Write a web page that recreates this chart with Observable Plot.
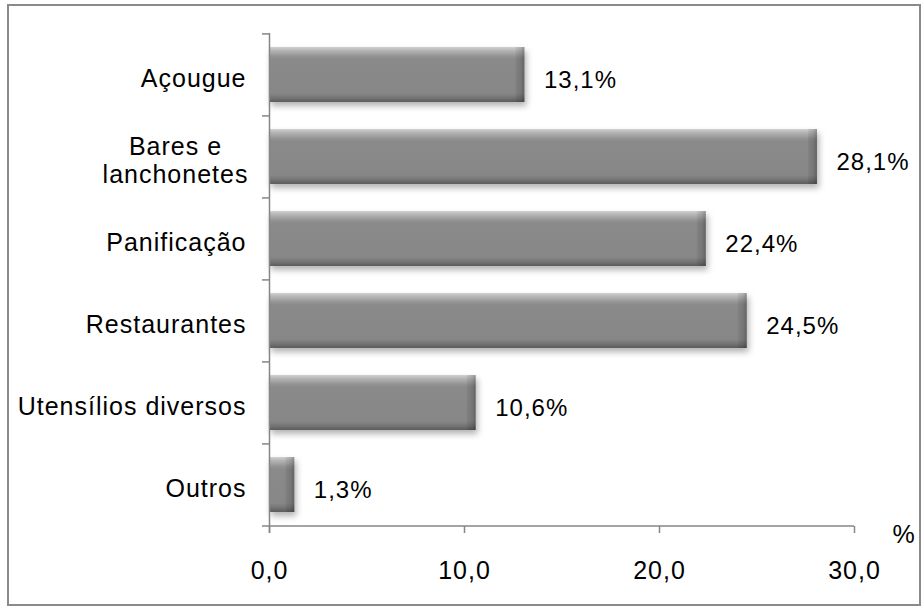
<!DOCTYPE html>
<html><head><meta charset="utf-8">
<script src="https://cdn.jsdelivr.net/npm/d3@7"></script>
<script src="https://cdn.jsdelivr.net/npm/@observablehq/plot@0.6"></script>
<style>
html,body{margin:0;padding:0;background:#fff;}
#wrap{position:relative;width:923px;height:607px;overflow:hidden;}
#wrap svg{position:absolute;left:0;top:0;}
#wrap svg text{letter-spacing:1px;}
#border{position:absolute;left:7px;top:4px;width:914px;height:602px;border:2px solid #8a8a8a;box-sizing:border-box;pointer-events:none;}
</style></head><body><div id="wrap"></div>
<script>
const categories = ["Açougue", "Bares e\nlanchonetes", "Panificação", "Restaurantes", "Utensílios diversos", "Outros"];
const values = [13.1, 28.1, 22.4, 24.5, 10.6, 1.3];
const valueLabels = ["13,1%", "28,1%", "22,4%", "24,5%", "10,6%", "1,3%"];
const xTicks = [0, 10, 20, 30];
const xTickLabels = ["0,0", "10,0", "20,0", "30,0"];
const unitLabel = "%";

const data = categories.map((c, i) => ({category: c, value: values[i], label: valueLabels[i]}));
const W = 923, H = 607, mL = 269, mR = 69, mT = 33, mB = 81;
const halfStep = (H - mT - mB) / categories.length / 2;
const axisGray = "#868686";
const font = "'Liberation Sans', Arial, sans-serif";

const plot = Plot.plot({
  width: W, height: H,
  marginLeft: mL, marginRight: mR, marginTop: mT, marginBottom: mB,
  style: {fontFamily: font, fontSize: "24px", color: "#000", background: "transparent", overflow: "visible"},
  x: {domain: [xTicks[0], xTicks[xTicks.length - 1]], axis: null},
  y: {domain: categories, paddingInner: 0.33, paddingOuter: 0.165, axis: null},
  marks: [
    Plot.barX(data, {x: "value", y: "category", fill: "url(#barGrad)"}),
    Plot.barX(data, {x1: "value", x2: "value", y: "category", insetLeft: -9, fill: "url(#endGrad)"}),
    Plot.ruleX([xTicks[0]], {stroke: axisGray, strokeWidth: 1.5, insetBottom: -7}),
    Plot.ruleY(categories, {y: d => d, x1: xTicks[0], x2: xTicks[0], insetLeft: -7, dy: -halfStep, stroke: axisGray, strokeWidth: 1.5}),
    Plot.ruleY([categories[categories.length - 1]], {y: d => d, x1: xTicks[0], x2: xTicks[xTicks.length - 1], insetLeft: -7, dy: halfStep, stroke: axisGray, strokeWidth: 1.5}),
    Plot.axisX({ticks: xTicks, tickSize: 7, tickPadding: 28, tickFormat: d => xTickLabels[xTicks.indexOf(d)], stroke: axisGray, strokeWidth: 1.5, fill: "#000", fontSize: 25, label: null}),
    Plot.text(data.filter(d => !d.category.includes("\n")), {x: () => xTicks[0], y: "category", text: "category", textAnchor: "end", dx: -23, dy: 4, fill: "#000", fontSize: 25}),
    Plot.text(data.filter(d => d.category.includes("\n")), {x: () => xTicks[0], y: "category", text: "category", textAnchor: "middle", dx: -94, dy: 3, lineHeight: 1.1, fill: "#000", fontSize: 25}),
    Plot.text(data, {x: "value", y: "category", text: "label", textAnchor: "start", dx: 19, dy: 5, fill: "#000", fontSize: 24}),
    Plot.text([unitLabel], {frameAnchor: "bottom-right", text: d => d, textAnchor: "start", dx: 38, dy: 16, fill: "#000", fontSize: 25})
  ]
});

const ns = "http://www.w3.org/2000/svg";
const defs = document.createElementNS(ns, "defs");
defs.innerHTML = `
  <linearGradient id="barGrad" x1="0" y1="0" x2="0" y2="1">
    <stop offset="0" stop-color="#d2d2d2"/>
    <stop offset="0.05" stop-color="#bababa"/>
    <stop offset="0.17" stop-color="#939393"/>
    <stop offset="0.22" stop-color="#8a8a8a"/>
    <stop offset="0.84" stop-color="#878787"/>
    <stop offset="0.91" stop-color="#777777"/>
    <stop offset="1" stop-color="#5c5c5c"/>
  </linearGradient>
  <linearGradient id="endGrad" x1="0" y1="0" x2="1" y2="0">
    <stop offset="0" stop-color="#000" stop-opacity="0.05"/>
    <stop offset="0.6" stop-color="#000" stop-opacity="0.14"/>
    <stop offset="1" stop-color="#000" stop-opacity="0.28"/>
  </linearGradient>
  <filter id="shadow" x="-10%" y="-20%" width="130%" height="170%">
    <feDropShadow dx="2" dy="4" stdDeviation="3" flood-color="#000" flood-opacity="0.3"/>
  </filter>`;
plot.insertBefore(defs, plot.firstChild);
const barG = plot.querySelector('g[fill="url(#barGrad)"]');
if (barG) barG.setAttribute("filter", "url(#shadow)");

const wrap = document.getElementById("wrap");
wrap.appendChild(plot);
const border = document.createElement("div");
border.id = "border";
wrap.appendChild(border);
</script>
</body></html>
